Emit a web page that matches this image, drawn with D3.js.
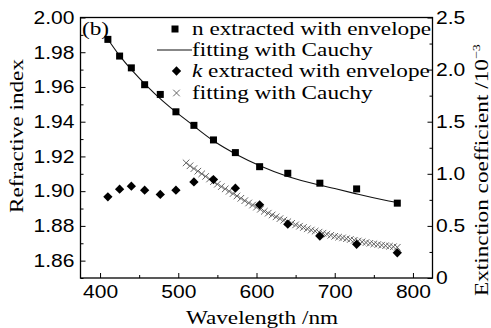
<!DOCTYPE html>
<html>
<head>
<meta charset="utf-8">
<script src="https://cdn.jsdelivr.net/npm/d3@7.9.0/dist/d3.min.js"></script>
<style>
  body { margin: 0; background: #fff; }
  svg { font-family: "Liberation Serif", serif; }
  .tick line { stroke: #000; }
  .tick text { font-size: 18px; fill: #000; }
</style>
</head>
<body>
<div id="chart"></div>
<script>
// n extracted with envelope (squares)
const nWave = [410, 425, 440, 457, 477, 497, 520, 545, 573, 604, 640, 681, 728, 780];
const nVals = [1.9874, 1.9778, 1.9710, 1.9613, 1.9557, 1.9457, 1.9379, 1.9295, 1.9222, 1.9141, 1.9103, 1.9046, 1.9013, 1.8931];

// Cauchy fit of n (line)
const nFitWave = [410, 425, 440, 460, 480, 500, 520, 545, 575, 605, 640, 680, 700, 730, 760, 780];
const nFitVals = [1.9875, 1.9780, 1.9700, 1.9605, 1.9520, 1.9445, 1.9375, 1.9290, 1.9210, 1.9145, 1.9085, 1.9035, 1.9015, 1.8982, 1.8952, 1.8935];

// k extracted with envelope (diamonds), units 1e-3
const kWave = [410, 425, 440, 457, 477, 497, 520, 545, 573, 604, 640, 681, 728, 780];
const kVals = [0.779, 0.852, 0.881, 0.843, 0.802, 0.843, 0.922, 0.945, 0.862, 0.702, 0.517, 0.402, 0.323, 0.242];

// Cauchy fit of k (crosses)
const kFitWave = [510, 515, 520, 525, 530, 535, 540, 545, 550, 555, 560, 565, 570, 575, 580, 585, 590, 595, 600,
  605, 610, 615, 620, 625, 630, 635, 640, 645, 650, 655, 660, 665, 670, 675, 680, 685, 690, 695, 700,
  705, 710, 715, 720, 725, 730, 735, 740, 745, 750, 755, 760, 765, 770, 775, 780];
const kFitVals = [1.105, 1.077, 1.050, 1.025, 1.000, 0.975, 0.950, 0.925, 0.900, 0.877, 0.855, 0.832, 0.810, 0.787, 0.765, 0.742, 0.720, 0.700, 0.680,
  0.660, 0.640, 0.622, 0.605, 0.587, 0.570, 0.555, 0.540, 0.525, 0.510, 0.497, 0.485, 0.472, 0.460, 0.450, 0.440, 0.430, 0.420, 0.410, 0.400,
  0.392, 0.385, 0.377, 0.370, 0.362, 0.355, 0.347, 0.340, 0.333, 0.327, 0.321, 0.315, 0.310, 0.305, 0.300, 0.295];

const xTicks = [400, 500, 600, 700, 800];
const yLTicks = [1.86, 1.88, 1.90, 1.92, 1.94, 1.96, 1.98, 2.00];
const yRTicks = [0, 0.5, 1.0, 1.5, 2.0, 2.5];

const legendLabels = ['n extracted with envelope', 'fitting with Cauchy', 'k extracted with envelope', 'fitting with Cauchy'];

const width = 491, height = 328;
const plot = { left: 80.5, right: 432.5, top: 17.5, bottom: 278 };

const svg = d3.select('#chart').append('svg')
  .attr('width', width).attr('height', height);

// stretch Times-like glyphs sideways to get closer to the wide book face of the original
function widen(sel, s) {
  sel.each(function () {
    const t = d3.select(this);
    const tx = +t.attr('x') || 0, ty = +t.attr('y') || 0;
    const tr = t.attr('transform') || '';
    t.attr('x', 0).attr('y', 0).attr('transform', `${tr} translate(${tx},${ty}) scale(${s},1)`);
  });
}

const x = d3.scaleLinear().domain([375, 825]).range([plot.left, plot.right]);
const yL = d3.scaleLinear().domain([1.85, 2.00]).range([plot.bottom, plot.top]);
const yR = d3.scaleLinear().domain([0, 2.5]).range([plot.bottom, plot.top]);

// minor ticks
svg.append('g').attr('transform', `translate(0,${plot.bottom})`)
  .call(d3.axisBottom(x).tickValues([450, 550, 650, 750]).tickSize(-3).tickFormat(''))
  .call(g => g.select('.domain').remove());
svg.append('g').attr('transform', `translate(${plot.left},0)`)
  .call(d3.axisLeft(yL).tickValues([1.85, 1.87, 1.89, 1.91, 1.93, 1.95, 1.97, 1.99]).tickSize(-3).tickFormat(''))
  .call(g => g.select('.domain').remove());
svg.append('g').attr('transform', `translate(${plot.right},0)`)
  .call(d3.axisRight(yR).tickValues([0.25, 0.75, 1.25, 1.75, 2.25]).tickSize(-3).tickFormat(''))
  .call(g => g.select('.domain').remove());

// major ticks
const gx = svg.append('g').attr('transform', `translate(0,${plot.bottom})`)
  .call(d3.axisBottom(x).tickValues(xTicks).tickSize(-5).tickPadding(7))
  .call(g => g.select('.domain').remove());
const gyl = svg.append('g').attr('transform', `translate(${plot.left},0)`)
  .call(d3.axisLeft(yL).tickValues(yLTicks).tickSize(-5).tickPadding(6).tickFormat(d3.format('.2f')))
  .call(g => g.select('.domain').remove());
const gyr = svg.append('g').attr('transform', `translate(${plot.right},0)`)
  .call(d3.axisRight(yR).tickValues(yRTicks).tickSize(-5).tickPadding(3.5).tickFormat(d => d === 0 ? '0' : d3.format('.1f')(d)))
  .call(g => g.select('.domain').remove());
[gx, gyl, gyr].forEach(g => widen(g.selectAll('text'), 1.17));

// frame
svg.append('rect')
  .attr('x', plot.left).attr('y', plot.top)
  .attr('width', plot.right - plot.left).attr('height', plot.bottom - plot.top)
  .attr('fill', 'none').attr('stroke', '#000').attr('stroke-width', 1.3);

// n fit line
svg.append('path')
  .datum(nFitWave.map((w, i) => [w, nFitVals[i]]))
  .attr('fill', 'none').attr('stroke', '#111').attr('stroke-width', 1.1)
  .attr('d', d3.line().x(d => x(d[0])).y(d => yL(d[1])).curve(d3.curveNatural));

// k fit crosses
const crossPath = d3.symbol(d3.symbolTimes, 30)();
svg.append('g').selectAll('path')
  .data(kFitWave.map((w, i) => [w, kFitVals[i]]))
  .join('path')
  .attr('transform', d => `translate(${x(d[0])},${yR(d[1])})`)
  .attr('d', crossPath)
  .attr('fill', 'none').attr('stroke', '#555').attr('stroke-width', 0.9);

// n squares
svg.append('g').selectAll('rect')
  .data(nWave.map((w, i) => [w, nVals[i]]))
  .join('rect')
  .attr('x', d => x(d[0]) - 3.5).attr('y', d => yL(d[1]) - 3.5)
  .attr('width', 7).attr('height', 7).attr('fill', '#000');

// k diamonds
const diamondPath = d3.symbol(d3.symbolDiamond2, 55)();
svg.append('g').selectAll('path')
  .data(kWave.map((w, i) => [w, kVals[i]]))
  .join('path')
  .attr('transform', d => `translate(${x(d[0])},${yR(d[1])})`)
  .attr('d', diamondPath).attr('fill', '#000');

const texts = svg.append('g').attr('font-size', 18);

// panel label
texts.append('text').attr('x', 82).attr('y', 35).text('(b)');

// legend
const legX = 192, legRows = [29, 50, 71, 93];
const leg = svg.append('g');
leg.append('rect').attr('x', 171.5).attr('y', legRows[0] - 3.5).attr('width', 7).attr('height', 7);
leg.append('line').attr('x1', 157).attr('x2', 192).attr('y1', legRows[1]).attr('y2', legRows[1])
  .attr('stroke', '#111').attr('stroke-width', 1.1);
leg.append('path').attr('transform', `translate(176.5,${legRows[2]})`).attr('d', diamondPath);
leg.append('path').attr('transform', `translate(176.5,${legRows[3]})`).attr('d', crossPath)
  .attr('fill', 'none').attr('stroke', '#555').attr('stroke-width', 0.9);
legendLabels.forEach((t, i) => {
  const txt = texts.append('text').attr('x', legX).attr('y', legRows[i] + 6);
  if (i === 2) {
    txt.append('tspan').attr('font-style', 'italic').text('k');
    txt.append('tspan').text(t.slice(1));
  } else {
    txt.text(t);
  }
});

// axis titles
texts.append('text').attr('x', 262).attr('y', 324).attr('text-anchor', 'middle')
  .text('Wavelength /nm');
texts.append('text').attr('transform', 'translate(23,136) rotate(-90)').attr('text-anchor', 'middle')
  .text('Refractive index');
const rt = texts.append('text').attr('transform', 'translate(488,170) rotate(-90)').attr('text-anchor', 'middle');
rt.append('tspan').text('Extinction coefficient /10');
rt.append('tspan').attr('font-size', 11).attr('dy', -8).text('−3');

widen(texts.selectAll('text'), 1.29);
</script>
</body>
</html>
